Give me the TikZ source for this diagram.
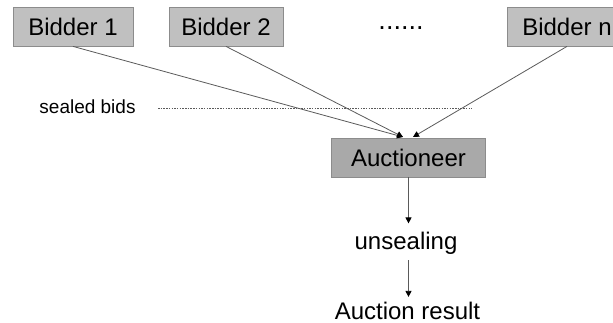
\documentclass[tikz,border=0pt]{standalone}
\usepackage{fontspec}
\setmainfont{Liberation Sans}
\usetikzlibrary{arrows.meta}
\definecolor{boxgray}{HTML}{C0C0C0}
\definecolor{aucgray}{HTML}{A9A9A9}
\definecolor{edgegray}{HTML}{8C8C8C}
\definecolor{linegray}{HTML}{5A5A5A}
\tikzset{
  party/.style={draw=edgegray, fill=boxgray, line width=0.8pt, minimum height=39pt,
    inner sep=0pt, font=\fontsize{24}{28}\selectfont},
  label/.style={anchor=base, inner sep=0pt, font=\fontsize{24}{28}\selectfont},
  bid/.style={draw=linegray, line width=0.8pt, -{Triangle[length=6pt,width=6pt,color=black]}},
  flow/.style={draw=linegray, line width=0.8pt, -{Triangle[length=6pt,width=6pt,color=black]}},
  seal/.style={draw=linegray, line width=0.6pt, dash pattern=on 1.5pt off 1.2pt}
}

\begin{document}
\begin{tikzpicture}[x=1pt, y=-1pt]
    \useasboundingbox (0,0) rectangle (613,323);
    \clip (0,0) rectangle (613,323);
    \node(b1)[party, minimum width=120pt] at(73,26.5) {Bidder 1};
    \node(b2)[party, minimum width=114pt] at(226,26.5) {Bidder 2};
    \node(dots)[label, font=\fontsize{27}{30}\selectfont] at(401,29.5) {......};
    \node(bn)[party, minimum width=120pt] at(567,26.5) {Bidder n};
    \node(sb)[anchor=base, inner sep=0pt, font=\fontsize{19}{22}\selectfont] at(87.5,114) {sealed bids};
    \node(auc)[party, fill=aucgray, minimum width=154pt] at(408.5,157.5) {Auctioneer};
    \node(uns)[label] at(406,250) {unsealing};
    \node(res)[label] at(407.5,319) {Auction result};
    \coordinate(in1) at (403,137);
    \coordinate(in2) at (413,137);
    \coordinate(sl) at (158,108);
    \coordinate(sr) at (472,108);
    \draw[seal] (sl) -- (sr);
    \draw[bid] (b1.south) -- (in1);
    \draw[bid] (b2.south) -- (in1);
    \draw[bid] (bn.south) -- (in2);
    \draw[flow, shorten >=9pt] (auc.south) -- (auc.south |- uns.north);
    \draw[flow, shorten <=5pt, shorten >=4.5pt] (auc.south |- uns.south) -- (auc.south |- res.north);
\end{tikzpicture}
\end{document}
